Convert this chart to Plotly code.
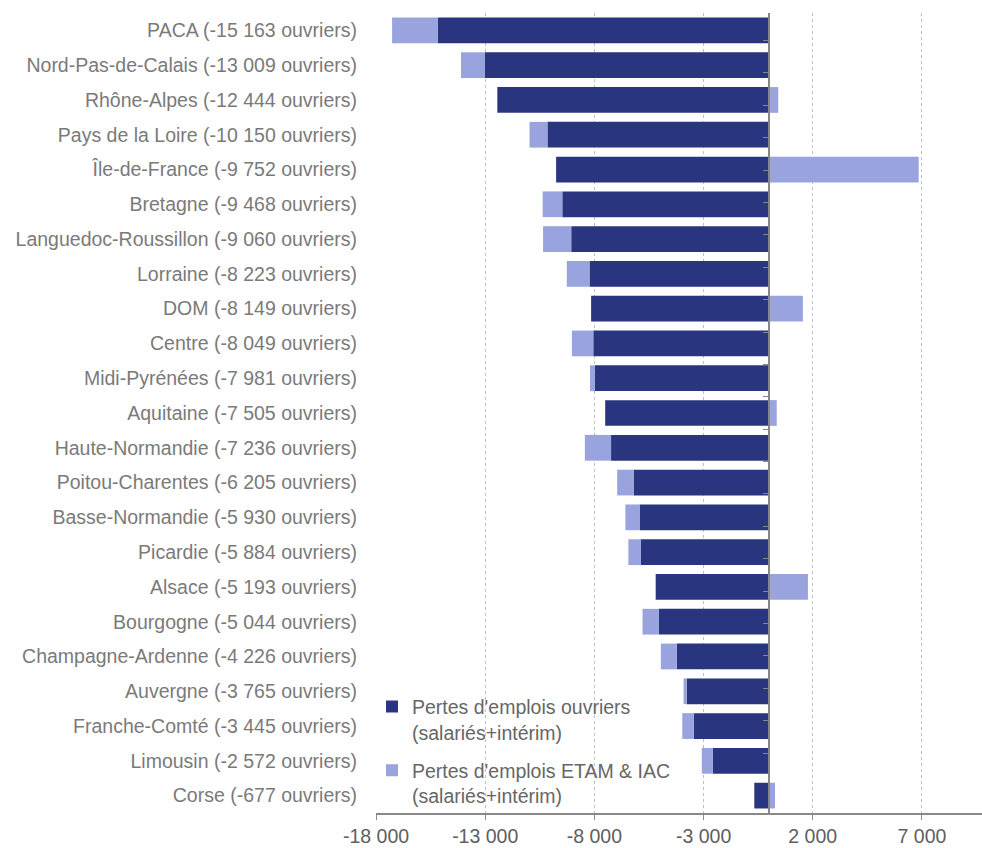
import plotly.graph_objects as go

regions = ["PACA (-15 163 ouvriers)", "Nord-Pas-de-Calais (-13 009 ouvriers)",
           "Rhône-Alpes (-12 444 ouvriers)", "Pays de la Loire (-10 150 ouvriers)",
           "Île-de-France (-9 752 ouvriers)", "Bretagne (-9 468 ouvriers)",
           "Languedoc-Roussillon (-9 060 ouvriers)", "Lorraine (-8 223 ouvriers)",
           "DOM (-8 149 ouvriers)", "Centre (-8 049 ouvriers)",
           "Midi-Pyrénées (-7 981 ouvriers)", "Aquitaine (-7 505 ouvriers)",
           "Haute-Normandie (-7 236 ouvriers)", "Poitou-Charentes (-6 205 ouvriers)",
           "Basse-Normandie (-5 930 ouvriers)", "Picardie (-5 884 ouvriers)",
           "Alsace (-5 193 ouvriers)", "Bourgogne (-5 044 ouvriers)",
           "Champagne-Ardenne (-4 226 ouvriers)", "Auvergne (-3 765 ouvriers)",
           "Franche-Comté (-3 445 ouvriers)", "Limousin (-2 572 ouvriers)",
           "Corse (-677 ouvriers)"]

ouvriers = [-15163, -13009, -12444, -10150, -9752, -9468, -9060, -8223, -8149,
            -8049, -7981, -7505, -7236, -6205, -5930, -5884, -5193, -5044,
            -4226, -3765, -3445, -2572, -677]

etam_iac = [-2100, -1100, 420, -820, 6850, -900, -1290, -1040, 1550, -980,
            -220, 350, -1200, -750, -650, -560, 1780, -750, -730, -150,
            -530, -510, 270]

tick_vals = [-18000, -13000, -8000, -3000, 2000, 7000]
tick_text = ["-18 000", "-13 000", "-8 000", "-3 000", "2 000", "7 000"]

x_min, x_max = -18000, 9750

navy = "#29367F"
lilac = "#99A3DE"

fig = go.Figure()
fig.add_trace(go.Bar(
    y=regions, x=ouvriers, orientation="h", marker=dict(color=navy, line=dict(width=0)),
    name="Pertes d'emplois ouvriers<br>(salariés+intérim)", legendgroup="a"))
fig.add_trace(go.Bar(
    y=regions, x=etam_iac, orientation="h", marker=dict(color=lilac, line=dict(width=0)),
    name="Pertes d'emplois ETAM & IAC<br>(salariés+intérim)", legendgroup="b"))
# invisible helper trace for the category axis drawn at zero
fig.add_trace(go.Scatter(
    y=regions, x=[0] * len(regions), yaxis="y2", mode="markers",
    marker=dict(opacity=0), showlegend=False, hoverinfo="skip"))

zero_pos = (0 - x_min) / (x_max - x_min)

fig.update_layout(
    width=982, height=848,
    margin=dict(l=376, r=0, t=13, b=35),
    barmode="relative", bargap=0.26,
    plot_bgcolor="white", paper_bgcolor="white",
    font=dict(family="Liberation Sans, Arial, sans-serif", size=19.5, color="#666666"),
    xaxis=dict(range=[x_min, x_max], tickvals=tick_vals, ticktext=tick_text,
               showgrid=True, gridcolor="#BFBFBF", griddash="dot", gridwidth=1,
               zeroline=False, showline=True, linecolor="#898989", linewidth=1.5,
               ticks="outside", ticklen=5, tickcolor="#898989",
               tickfont=dict(size=19.5, color="#606060")),
    yaxis=dict(type="category", categoryorder="array", categoryarray=regions,
               autorange="reversed", showgrid=False, zeroline=False, showline=False,
               ticks="", ticklabelstandoff=18,
               tickfont=dict(size=19.5, color="#7A7A7A")),
    yaxis2=dict(type="category", categoryorder="array", categoryarray=regions,
                autorange="reversed", overlaying="y", anchor="free", position=zero_pos,
                side="left", showgrid=False, zeroline=False, showline=True,
                linecolor="#868686", linewidth=1.5, ticks="outside", tickson="boundaries",
                ticklen=5, tickcolor="#868686", showticklabels=False),
    legend=dict(x=-0.0066, y=0.157, xanchor="left", yanchor="top", valign="top",
                bgcolor="rgba(0,0,0,0)", traceorder="grouped", tracegroupgap=10,
                font=dict(size=19.5, color="#666666"), itemwidth=30),
    showlegend=True,
)

fig.write_html("out.html", config={"displayModeBar": False},
               post_script="document.body.style.margin='0';")
